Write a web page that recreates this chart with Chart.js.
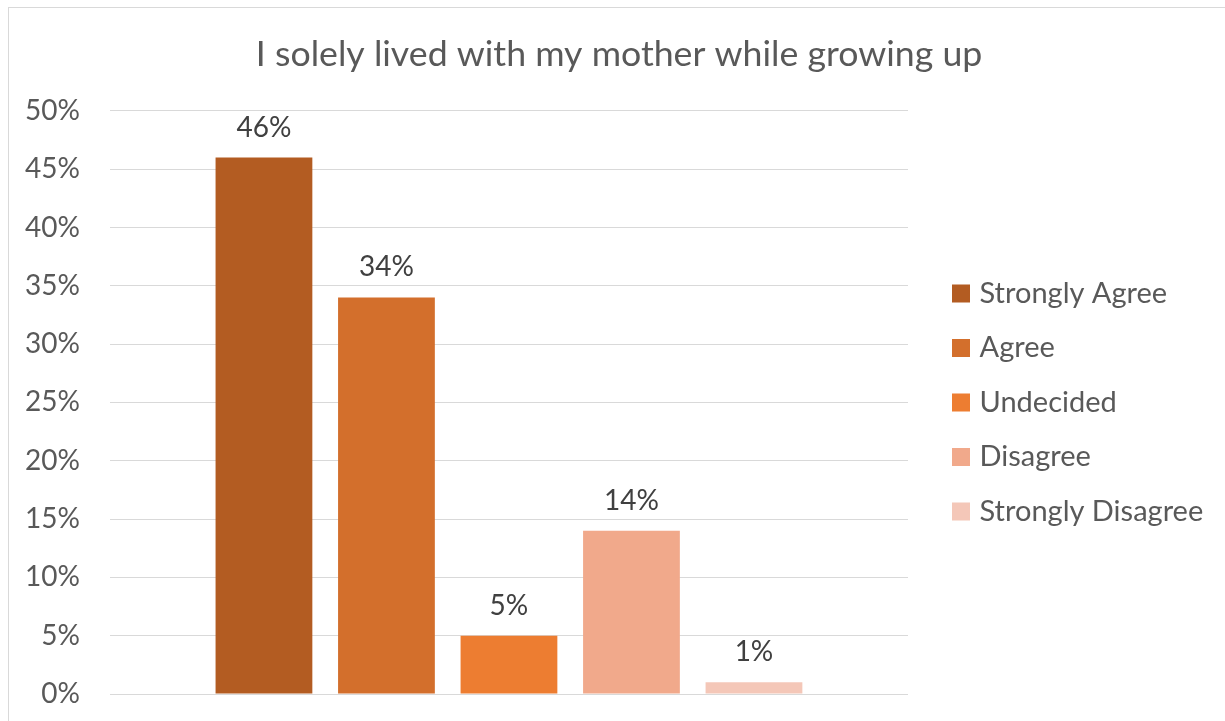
<!DOCTYPE html>
<html>
<head>
<meta charset="utf-8">
<script src="https://cdn.jsdelivr.net/npm/chart.js@4.4.1/dist/chart.umd.min.js"></script>
<style>
  html, body { margin: 0; padding: 0; background: #ffffff; }
  #wrap { position: relative; width: 1225px; height: 721px; }
</style>
</head>
<body>
<div id="wrap"><canvas id="chart" width="1225" height="721"></canvas></div>
<script>
// Survey responses
const chartTitle = 'I solely lived with my mother while growing up';
const responses = ['Strongly Agree', 'Agree', 'Undecided', 'Disagree', 'Strongly Disagree'];
const shares = [46, 34, 5, 14, 1];
const colours = ['#B35C22', '#D36F2C', '#ED7D31', '#F1A98B', '#F4C7B8'];
const yTicks = [0, 5, 10, 15, 20, 25, 30, 35, 40, 45, 50];

const FONT = 'Lato, "Open Sans", sans-serif';
const TEXT = '#595959';
const LEGEND_SIZE = 29;

// Right padding so the legend block keeps its place next to the plot
const probe = document.createElement('canvas').getContext('2d');
probe.font = LEGEND_SIZE + 'px ' + FONT;
const widest = Math.max(...responses.map(r => probe.measureText(r).width));
const rightPad = Math.max(0, 1225 - (989.5 + widest));

// Value labels above each bar
const valueLabels = {
  id: 'valueLabels',
  afterDatasetsDraw(chart) {
    const { ctx } = chart;
    ctx.save();
    ctx.font = '28px ' + FONT;
    ctx.fillStyle = '#404040';
    ctx.textAlign = 'center';
    ctx.textBaseline = 'middle';
    chart.data.datasets.forEach((ds, i) => {
      const meta = chart.getDatasetMeta(i);
      meta.data.forEach((bar, j) => {
        ctx.fillText(ds.data[j] + '%', bar.x, bar.y - 30);
      });
    });
    ctx.restore();
  }
};

// Thin frame round the chart
const frame = {
  id: 'frame',
  beforeDraw(chart) {
    const { ctx } = chart;
    ctx.save();
    ctx.strokeStyle = '#D9D9D9';
    ctx.lineWidth = 1;
    ctx.strokeRect(8.5, 7.5, 1400, 900);
    ctx.restore();
  }
};

new Chart(document.getElementById('chart'), {
  type: 'bar',
  data: {
    labels: [''],
    datasets: responses.map((r, i) => ({
      label: r,
      data: [shares[i]],
      backgroundColor: colours[i],
      borderWidth: 0,
      categoryPercentage: 0.7675,
      barPercentage: 0.79
    }))
  },
  options: {
    responsive: false,
    animation: false,
    devicePixelRatio: 1,
    layout: { padding: { left: 25, right: rightPad, top: 0, bottom: 27 } },
    plugins: {
      tooltip: { enabled: false },
      title: {
        display: true,
        text: chartTitle,
        color: TEXT,
        font: { family: FONT, size: 35.7, weight: 'normal' },
        padding: { top: 33, bottom: 35 }
      },
      legend: {
        display: true,
        position: 'right',
        align: 'center',
        fullSize: false,
        maxWidth: 320,
        labels: {
          color: TEXT,
          font: { family: FONT, size: LEGEND_SIZE },
          boxWidth: 8,
          boxHeight: 8,
          padding: 25.5,
          generateLabels(chart) {
            // square swatches: a small box with a thick border of the same colour
            const items = Chart.defaults.plugins.legend.labels.generateLabels(chart);
            items.forEach(it => {
              it.strokeStyle = it.fillStyle;
              it.lineWidth = 10;
            });
            return items;
          }
        }
      }
    },
    scales: {
      x: {
        grid: { display: false, drawTicks: false },
        border: { display: false },
        ticks: { display: false },
        afterFit(scale) { scale.height = 0; }
      },
      y: {
        min: 0,
        max: 50,
        afterBuildTicks(scale) {
          scale.ticks = yTicks.map(v => ({ value: v }));
        },
        afterFit(scale) {
          scale.width -= 30;
          scale.paddingTop = 0;
          scale.paddingBottom = 0;
        },
        grid: { color: '#D9D9D9', lineWidth: 1, drawTicks: false },
        border: { display: false },
        ticks: {
          padding: 30,
          color: TEXT,
          font: { family: FONT, size: 28 },
          callback: v => v + '%'
        }
      },
      gap: {
        type: 'linear',
        position: 'right',
        display: true,
        grid: { display: false, drawTicks: false },
        border: { display: false },
        ticks: { display: false },
        afterFit(scale) { scale.width = 23.5; }
      }
    }
  },
  plugins: [valueLabels, frame]
});
</script>
</body>
</html>
